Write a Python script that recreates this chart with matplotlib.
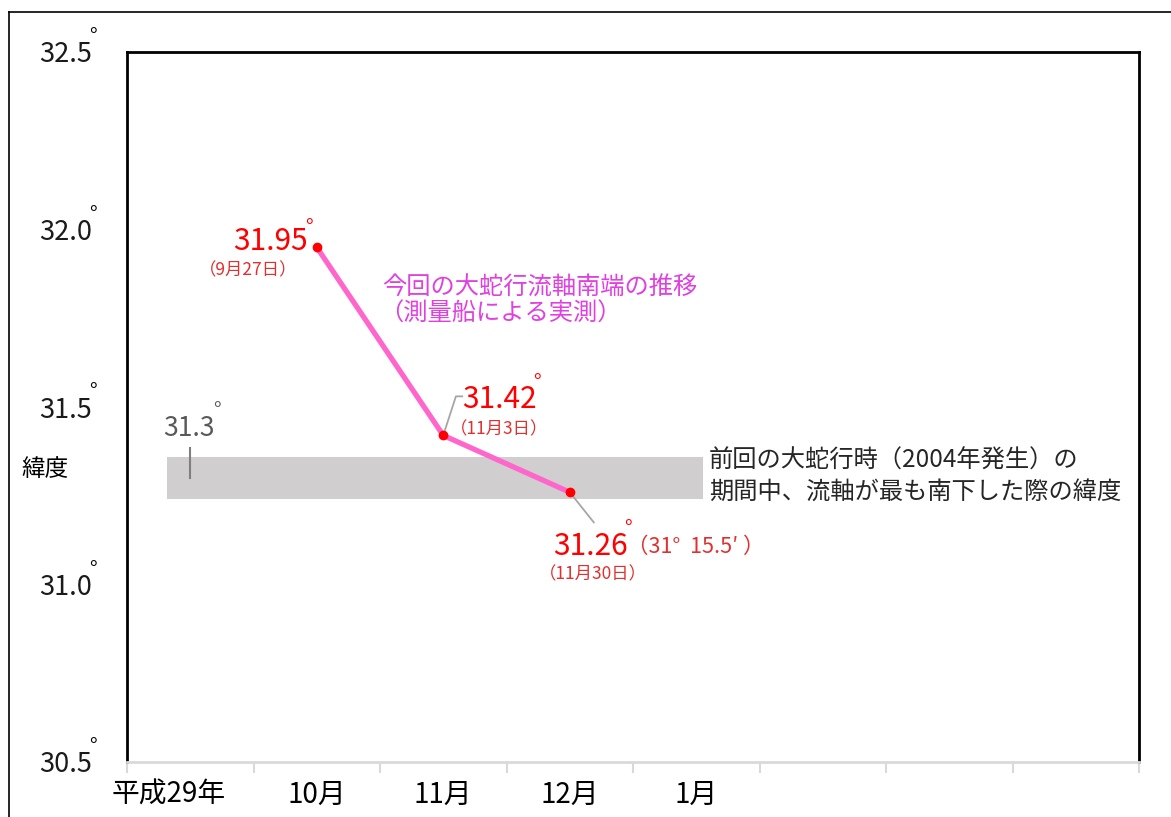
import matplotlib
matplotlib.use("Agg")
import matplotlib.pyplot as plt
import matplotlib.transforms as mtransforms
from matplotlib.patches import Rectangle
from matplotlib.lines import Line2D

plt.rcParams['font.family'] = ['Noto Sans CJK JP', 'DejaVu Sans']

# data
months = ['平成29年', '10月', '11月', '12月', '1月']
month_pos = [0.33, 1.5, 2.5, 3.5, 4.5]
obs_x = [1.5, 2.5, 3.5]
obs_lat = [31.95, 31.42, 31.26]
obs_dates = ['（9月27日）', '（11月3日）', '（11月30日）']
yticks = [30.5, 31.0, 31.5, 32.0, 32.5]
prev_lat = 31.3
band_half = 0.058
band_x = [0.32, 4.55]

W, H = 1171, 817
fig = plt.figure(figsize=(W / 100, H / 100), dpi=100)
ax = fig.add_axes([127 / W, 1 - 762 / H, (1139 - 127) / W, (762 - 52) / H])

# outer frame (top and left visible)
fig.add_artist(Line2D([9 / W, 9 / W], [0, 1 - 12 / H], transform=fig.transFigure, color='black', lw=1.2))
fig.add_artist(Line2D([9 / W, 1], [1 - 12 / H, 1 - 12 / H], transform=fig.transFigure, color='black', lw=1.2))

ax.set_xlim(0, 8)
ax.set_ylim(30.5, 32.5)

for s in ['left', 'top', 'right']:
    ax.spines[s].set_color('black')
    ax.spines[s].set_linewidth(2)
ax.spines['bottom'].set_color('#d9d9d9')
ax.spines['bottom'].set_linewidth(2)

ax.set_xticks(range(0, 9))
ax.set_xticklabels([])
ax.tick_params(axis='x', which='major', length=8, width=1.5, color='#d9d9d9')
ax.set_xticks(month_pos, minor=True)
ax.set_xticklabels(months, minor=True, fontsize=20)
ax.tick_params(axis='x', which='minor', length=0, pad=13)

ax.set_yticks(yticks)
ax.set_yticklabels([f'{v:.1f}' for v in yticks], fontsize=19.5, color='#1a1a1a')
ax.tick_params(axis='y', length=0, pad=25)

ytrans = mtransforms.blended_transform_factory(ax.transAxes, ax.transData)
for v in yticks:
    ax.annotate('°', xy=(0, v), xycoords=ytrans, xytext=(-24.5, 10.5), textcoords='offset points',
                fontsize=15, ha='center', va='center', annotation_clip=False)

fig.text(21 / W, 1 - 470 / H, '緯度', fontsize=17, va='center', ha='left')

# previous meander band
ax.add_patch(Rectangle((band_x[0], prev_lat - band_half), band_x[1] - band_x[0], 2 * band_half,
                       facecolor='#d0cece', edgecolor='none', zorder=1))
ax.plot([0.5, 0.5], [prev_lat + 0.085, prev_lat], color='#7f7f7f', lw=1.5, zorder=2)
ax.text(0.285, prev_lat + 0.14, '31.3', fontsize=19, color='#595959', ha='left', va='center')
ax.text(0.71, prev_lat + 0.19, '°', fontsize=15, color='#595959', ha='center', va='center')
ax.text(4.6, prev_lat + 0.05, '前回の大蛇行時（2004年発生）の', fontsize=17.5, color='#262626',
        ha='left', va='center')
ax.text(4.6, prev_lat - 0.04, '期間中、流軸が最も南下した際の緯度', fontsize=17.5, color='#262626',
        ha='left', va='center')

# observed line
ax.plot(obs_x, obs_lat, color='#ff66cc', lw=3.8, zorder=3)
ax.plot(obs_x, obs_lat, 'o', color='#ff0000', ms=6, zorder=4)

ax.text(2.02, 31.837, '今回の大蛇行流軸南端の推移', fontsize=17.5, color='#e040e0', ha='left', va='center')
ax.text(1.99, 31.762, '（測量船による実測）', fontsize=17.5, color='#e040e0', ha='left', va='center')

red = '#ff0000'
sub = '#e03030'
# 31.95
ax.text(obs_x[0] - 0.07, obs_lat[0] + 0.015, f'{obs_lat[0]:.2f}', fontsize=21.5, color=red, ha='right', va='center')
ax.text(obs_x[0] - 0.06, obs_lat[0] + 0.055, '°', fontsize=15, color=red, ha='center', va='center')
ax.text(obs_x[0] - 0.15, obs_lat[0] - 0.065, obs_dates[0], fontsize=12.5, color=sub, ha='right', va='center')

# 31.42
ax.plot([obs_x[1], obs_x[1] + 0.1, obs_x[1] + 0.15], [obs_lat[1], obs_lat[1] + 0.11, obs_lat[1] + 0.11],
        color='#a6a6a6', lw=1.3, zorder=2)
ax.text(obs_x[1] + 0.15, obs_lat[1] + 0.1, f'{obs_lat[1]:.2f}', fontsize=21.5, color=red, ha='left', va='center')
ax.text(obs_x[1] + 0.74, obs_lat[1] + 0.148, '°', fontsize=15, color=red, ha='center', va='center')
ax.text(obs_x[1] + 0.05, obs_lat[1] + 0.018, obs_dates[1], fontsize=12.5, color=sub, ha='left', va='center')

# 31.26
ax.plot([obs_x[2], obs_x[2] + 0.19], [obs_lat[2], obs_lat[2] - 0.085], color='#a6a6a6', lw=1.3, zorder=2)
ax.text(obs_x[2] - 0.13, obs_lat[2] - 0.152, f'{obs_lat[2]:.2f}', fontsize=21.5, color=red, ha='left', va='center')
ax.text(obs_x[2] + 0.46, obs_lat[2] - 0.105, '°', fontsize=15, color=red, ha='center', va='center')
ax.text(obs_x[2] + 0.45, obs_lat[2] - 0.155, '（31°  15.5′ ）', fontsize=15.5, color=sub, ha='left', va='center')
ax.text(obs_x[2] - 0.24, obs_lat[2] - 0.23, obs_dates[2], fontsize=12.5, color=sub, ha='left', va='center')

fig.savefig('out.png', dpi=100)
